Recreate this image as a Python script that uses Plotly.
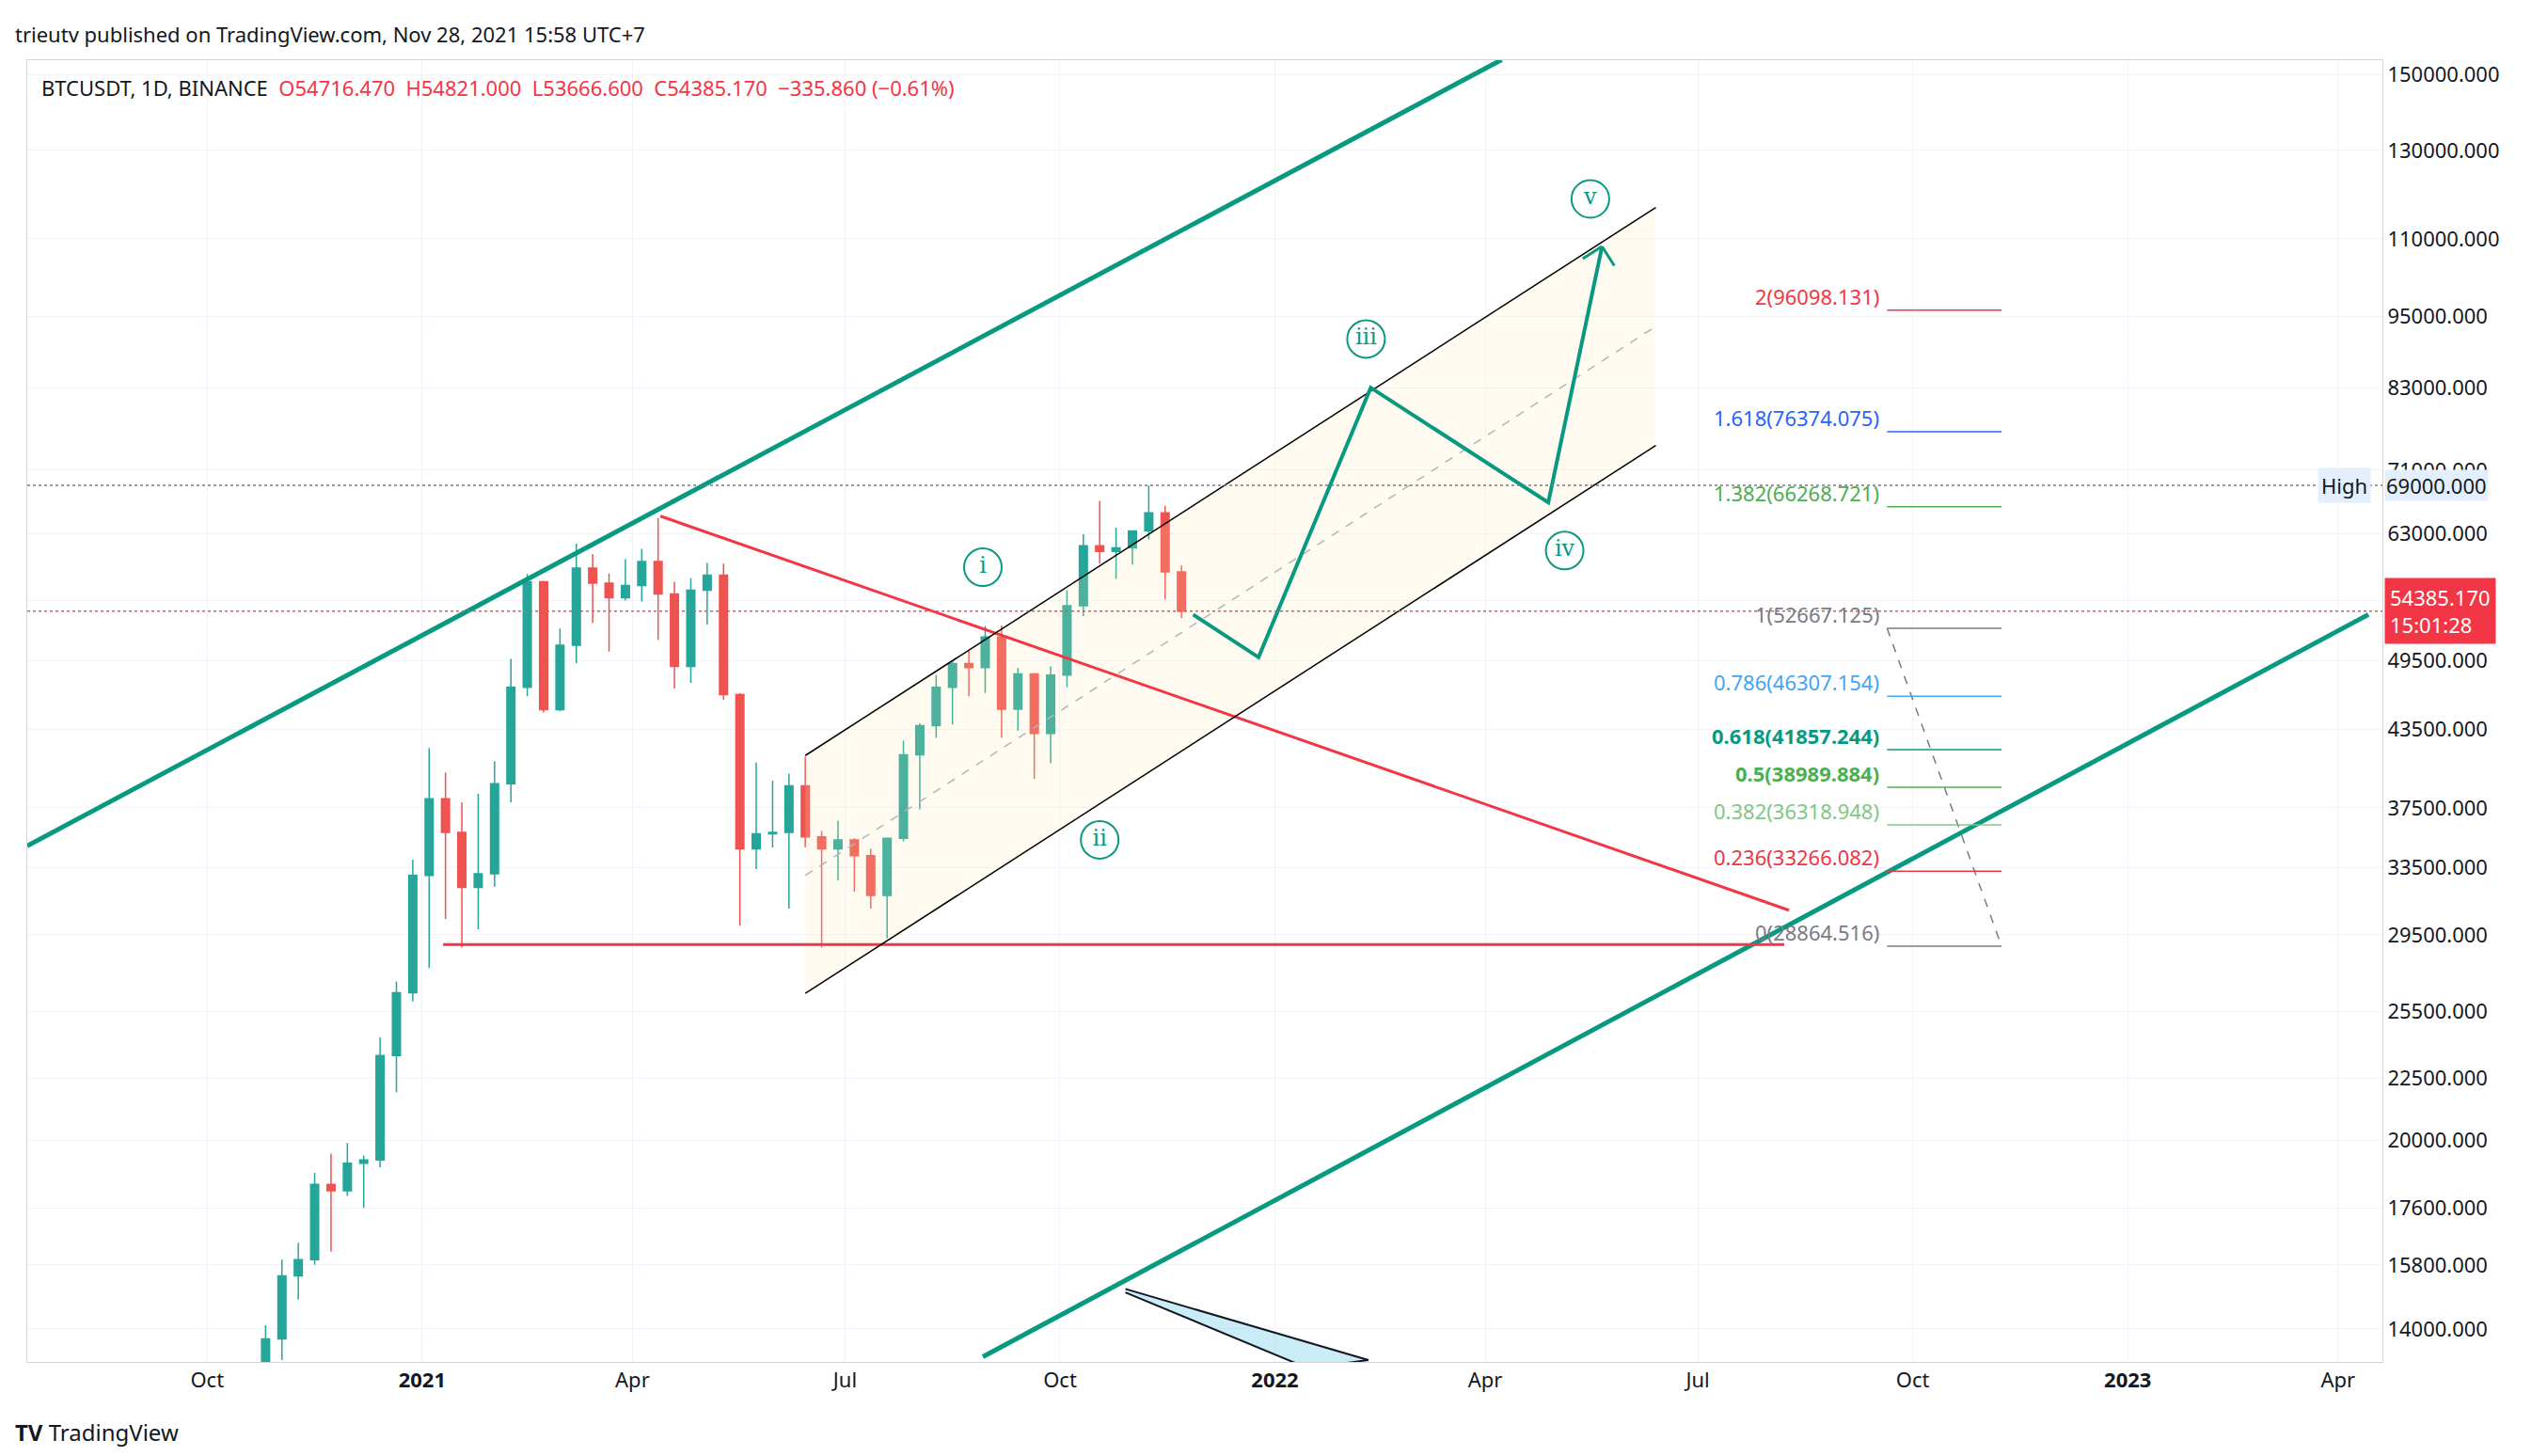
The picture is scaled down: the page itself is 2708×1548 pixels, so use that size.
import math
import pandas as pd
import plotly.graph_objects as go

# weekly BTCUSDT candles
weeks = pd.date_range('2020-10-26', periods=57, freq='7D')
opens = [13031, 13737, 15480, 15960, 18400, 18180, 19150, 19270, 23480, 26440,
         33000, 38150, 35800, 32260, 33100, 39250, 47100, 57500, 45150, 51000,
         59000, 57350, 55800, 57100, 59750, 56200, 49000, 56580, 58230, 46450,
         34700, 35700, 35800, 39100, 35500, 34700, 35300, 34250, 31780, 35400,
         41460, 43800, 47100, 49260, 48900, 51800, 45200, 48300, 43160, 48200,
         54950, 61550, 60900, 61300, 63300, 65500, 58600]
highs = [14100, 15960, 16480, 18800, 19500, 19900, 19430, 24300, 27000, 34000,
         42000, 40100, 37900, 38500, 40950, 49700, 58350, 57600, 52640, 61800,
         60600, 58400, 60000, 61200, 64850, 57500, 57900, 59600, 59500, 46600,
         40850, 39500, 40000, 41300, 35900, 36600, 35400, 34700, 34500, 42600,
         44000, 48200, 49500, 50500, 52900, 52950, 48850, 48350, 49000, 56600,
         62900, 67000, 63700, 63000, 69000, 66400, 59300]
lows = [12950, 13200, 14800, 15800, 16200, 18000, 17600, 19000, 21900, 26000,
        27700, 30400, 28800, 29800, 32300, 37900, 46300, 44900, 45000, 49300,
        53200, 50400, 55500, 55400, 51500, 47000, 47500, 53000, 46000, 30000,
        33400, 34800, 31000, 34800, 28800, 32700, 32000, 31000, 29300, 35200,
        37400, 42800, 43900, 46300, 46600, 42800, 43400, 39600, 40800, 47100,
        53900, 59500, 57800, 59400, 62300, 55600, 53666]
closes = [13737, 15480, 15960, 18400, 18180, 19150, 19270, 23480, 26440, 33000,
          38150, 35800, 32260, 33100, 39250, 47100, 57500, 45150, 51000, 59000,
          57350, 55800, 57100, 59750, 56200, 49000, 56580, 58230, 46450, 34700,
          35700, 35800, 39100, 35500, 34700, 35300, 34250, 31780, 35400, 41460,
          43800, 47100, 49260, 48900, 51800, 45200, 48300, 43160, 48200, 54950,
          61550, 60900, 61300, 63300, 65500, 58600, 54385]

# drawing points (date, price)
teal_up_x = ['2020-07-16', '2022-04-08']
teal_up_y = [34900, 154300]
teal_lo_x = ['2021-08-29', '2023-04-14']
teal_lo_y = [13280, 54050]
red_h_x = ['2021-01-10', '2022-08-07']
red_h_y = [28960, 28960]
red_d_x = ['2021-04-13', '2022-08-09']
red_d_y = [65100, 30900]
ch_up_x = ['2021-06-14', '2022-06-13']
ch_up_y = [41400, 116700]
ch_lo_x = ['2021-06-14', '2022-06-13']
ch_lo_y = [26400, 74400]
ch_mid_y = [33000, 93200]
wave_x = ['2021-11-27', '2021-12-25', '2022-02-11', '2022-04-28', '2022-05-21']
wave_y = [54050, 49850, 83000, 66800, 108400]
lbl_text = ['i', 'ii', 'iii', 'iv', 'v']
lbl_x = ['2021-08-29', '2021-10-18', '2022-02-09', '2022-05-05', '2022-05-16']
lbl_y = [59100, 35300, 91000, 61000, 118600]
fib_ratio = ['2', '1.618', '1.382', '1', '0.786', '0.618', '0.5', '0.382', '0.236', '0']
fib_val = [96098.131, 76374.075, 66268.721, 52667.125, 46307.154, 41857.244,
           38989.884, 36318.948, 33266.082, 28864.516]
fib_col = ['#f23645', '#2962ff', '#4caf50', '#787b86', '#42a5f5', '#089981',
           '#4caf50', '#81c784', '#f23645', '#787b86']
fib_x0, fib_x1 = '2022-09-20', '2022-11-08'
tri_x = ['2021-10-29', '2022-02-10', '2022-01-15', '2021-10-29']
tri_y = [15100, 13200, 13000, 15000]
yticks = [150000, 130000, 110000, 95000, 83000, 71000, 63000, 55500, 49500, 43500,
          37500, 33500, 29500, 25500, 22500, 20000, 17600, 15800, 14000]
xticks = ['2020-10-01', '2021-01-01', '2021-04-01', '2021-07-01', '2021-10-01',
          '2022-01-01', '2022-04-01', '2022-07-01', '2022-10-01', '2023-01-01', '2023-04-01']
xlabels = ['Oct', '<b>2021</b>', 'Apr', 'Jul', 'Oct', '<b>2022</b>', 'Apr', 'Jul',
           'Oct', '<b>2023</b>', 'Apr']

TEAL = '#089981'
L = math.log10
fig = go.Figure()

# channel fill
fig.add_trace(go.Scatter(x=ch_lo_x + ch_up_x[::-1], y=ch_lo_y + ch_up_y[::-1], fill='toself',
                         mode='lines', fillcolor='rgba(255,235,170,0.18)', line=dict(width=0),
                         hoverinfo='skip', showlegend=False))
fig.add_trace(go.Candlestick(x=weeks, open=opens, high=highs, low=lows, close=closes,
                             increasing=dict(line=dict(color='#26a69a', width=1.5), fillcolor='#26a69a'),
                             decreasing=dict(line=dict(color='#ef5350', width=1.5), fillcolor='#ef5350'),
                             whiskerwidth=0, showlegend=False))


def line(x, y, color, width, dash='solid'):
    fig.add_trace(go.Scatter(x=x, y=y, mode='lines', line=dict(color=color, width=width, dash=dash),
                             hoverinfo='skip', showlegend=False))


line(teal_up_x, teal_up_y, TEAL, 5)
line(teal_lo_x, teal_lo_y, TEAL, 5)
line(red_h_x, red_h_y, '#f23645', 3)
line(red_d_x, red_d_y, '#f23645', 3)
line(ch_up_x, ch_up_y, 'black', 1.5)
line(ch_lo_x, ch_lo_y, 'black', 1.5)
line(ch_lo_x, ch_mid_y, '#b2b5be', 1.5, 'dash')
line(wave_x, wave_y, TEAL, 4)
line([fib_x0, fib_x1], [fib_val[3], fib_val[9]], '#787b86', 1.5, 'dash')

# bottom triangle
fig.add_trace(go.Scatter(x=tri_x, y=tri_y, fill='toself', mode='lines',
                         fillcolor='rgba(100,200,230,0.35)',
                         line=dict(color='#131722', width=2), hoverinfo='skip', showlegend=False))

for v, c in zip(fib_val, fib_col):
    line([fib_x0, fib_x1], [v, v], c, 1.5)

fig.add_trace(go.Scatter(x=lbl_x, y=lbl_y, mode='markers+text', text=lbl_text,
                         marker=dict(symbol='circle-open', size=40, color=TEAL, line=dict(width=2)),
                         textfont=dict(color=TEAL, size=24, family='DejaVu Serif'),
                         textposition='middle center', hoverinfo='skip', showlegend=False))

shapes = [
    dict(type='line', xref='paper', x0=0, x1=1, y0=69000, y1=69000, yref='y',
         line=dict(color='#787b86', width=1.5, dash='dot')),
    dict(type='line', xref='paper', x0=0, x1=1, y0=54385.17, y1=54385.17, yref='y',
         line=dict(color='#ef5350', width=1.5, dash='dot')),
]

ann = []
for r, v, c in zip(fib_ratio, fib_val, fib_col):
    bold = r in ('0.618', '0.5')
    t = f'{r}({v:.3f})'
    ann.append(dict(x=fib_x0, y=L(v), xanchor='right', yanchor='bottom', showarrow=False,
                    text=f'<b>{t}</b>' if bold else t, font=dict(color=c, size=22),
                    xshift=-6, yshift=-2))
ann += [
    dict(x=wave_x[-1], y=L(wave_y[-1]), ax=-22, ay=14, showarrow=True,
         arrowhead=0, arrowcolor=TEAL, arrowwidth=3, text=''),
    dict(x=wave_x[-1], y=L(wave_y[-1]), ax=14, ay=22, showarrow=True,
         arrowhead=0, arrowcolor=TEAL, arrowwidth=3, text=''),
    dict(xref='paper', x=1, y=L(54385.17), xanchor='left', showarrow=False, align='left',
         text='54385.170<br>15:01:28', bgcolor='#f23645', font=dict(color='white', size=22),
         borderpad=5, xshift=2),
    dict(xref='paper', x=1, y=L(69000), xanchor='left', showarrow=False,
         text='69000.000', bgcolor='#e3effd', font=dict(color='#131722', size=22), xshift=2),
    dict(xref='paper', x=1, y=L(69000), xanchor='right', showarrow=False,
         text='High', bgcolor='#e3effd', font=dict(color='#131722', size=22), xshift=-12,
         borderpad=3),
    dict(xref='paper', yref='paper', x=-0.006, y=1.02, xanchor='left', yanchor='middle',
         showarrow=False,
         text='trieutv published on TradingView.com, Nov 28, 2021 15:58 UTC+7',
         font=dict(size=22, color='#131722')),
    dict(xref='paper', yref='paper', x=0.005, y=0.979, xanchor='left', yanchor='middle',
         showarrow=False,
         text='BTCUSDT, 1D, BINANCE  <span style="color:#f23645">O54716.470  H54821.000  '
              'L53666.600  C54385.170  −335.860 (−0.61%)</span>',
         font=dict(size=22, color='#131722')),
    dict(xref='paper', yref='paper', x=-0.006, y=-0.054, xanchor='left', yanchor='middle',
         showarrow=False,
         text='<b>TV</b> TradingView', font=dict(size=24, color='#131722')),
]

fig.update_layout(
    width=2708, height=1548,
    paper_bgcolor='white', plot_bgcolor='white',
    font=dict(family='Noto Sans, Liberation Sans', size=22, color='#131722'),
    margin=dict(l=21, r=183, t=56, b=108),
    shapes=shapes, annotations=ann,
    xaxis=dict(range=['2020-07-16', '2023-04-20'], tickvals=xticks, ticktext=xlabels,
               showgrid=True, gridcolor='#f0f3fa', rangeslider=dict(visible=False),
               showline=True, linecolor='#d1d4dc', mirror=True, ticks=''),
    yaxis=dict(type='log', side='right', range=[4.119, 5.188], tickvals=yticks,
               ticktext=[f'{v}.000' for v in yticks], showgrid=True, gridcolor='#f0f3fa',
               showline=True, linecolor='#d1d4dc', mirror=True, ticks=''),
)

fig.write_html('out.html')
